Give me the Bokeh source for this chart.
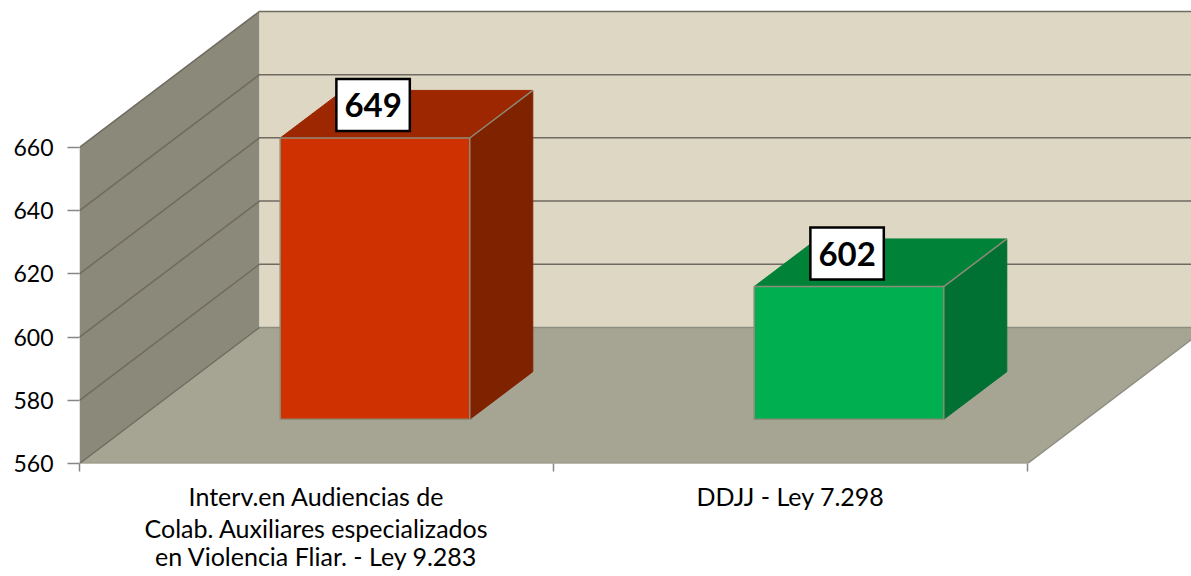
from bokeh.embed import file_html
from bokeh.resources import INLINE
from bokeh.plotting import figure
from bokeh.models import FixedTicker, Label, LinearAxis, Range1d

# --- data -------------------------------------------------------------
category_lines = [
    ["Interv.en Audiencias de", "Colab. Auxiliares especializados", "en Violencia Fliar. - Ley 9.283"],
    ["DDJJ - Ley 7.298"],
]
values = [649, 602]
y_ticks = [560, 580, 600, 620, 640, 660]
front_colors = ["#CF3200", "#00AF50"]
top_colors = ["#9C2700", "#008338"]
side_colors = ["#7F2200", "#007033"]

# --- projection of the 3-D box -------------------------------------------
BASE, TOP = y_ticks[0], y_ticks[-1]
DEPTH_X, DEPTH_Y = 0.3797, 43.04   # data shift at full depth
BAR_W = 0.4
D0, D1 = 0.325, 0.675
NCAT = len(values)
ROW_STANDOFF = [9, -1, -5]


def proj(points):
    xs = [c + d * DEPTH_X for c, v, d in points]
    ys = [v + d * DEPTH_Y for c, v, d in points]
    return xs, ys


p = figure(width=1191, height=576, output_backend="svg", toolbar_location=None,
           x_range=Range1d(0, 2.346), y_range=Range1d(560, 706.5),
           x_axis_type=None, y_axis_type=None,
           min_border_left=79, min_border_right=0, min_border_top=0, min_border_bottom=113,
           background_fill_color="white", border_fill_color="white", outline_line_color=None)
p.grid.visible = False

GRID = "#6F6B60"
EDGE = "#8C8C78"

# walls and floor
xs, ys = proj([(0, BASE, 0), (0, TOP, 0), (0, TOP, 1), (0, BASE, 1)])
p.patch(xs, ys, fill_color="#8B8979", line_color=None)
xs, ys = proj([(0, BASE, 1), (0, TOP, 1), (NCAT, TOP, 1), (NCAT, BASE, 1)])
p.patch(xs, ys, fill_color="#DDD7C3", line_color=None)
xs, ys = proj([(0, BASE, 0), (NCAT, BASE, 0), (NCAT, BASE, 1), (0, BASE, 1)])
p.patch(xs, ys, fill_color="#A6A492", line_color="#8E8E80", line_width=1.5)

# gridlines
for t in y_ticks:
    if t == BASE:
        continue
    xs, ys = proj([(0, t, 0), (0, t, 1), (NCAT, t, 1)])
    p.line(xs, ys, line_color=GRID, line_width=1.5)
xs, ys = proj([(0, BASE, 0), (0, BASE, 1)])
p.line(xs, ys, line_color=GRID, line_width=1.2)

# bars
for i, val in enumerate(values):
    x0, x1 = i + 0.5 - BAR_W / 2, i + 0.5 + BAR_W / 2
    xs, ys = proj([(x1, BASE, D0), (x1, BASE, D1), (x1, val, D1), (x1, val, D0)])
    p.patch(xs, ys, fill_color=side_colors[i], line_color=side_colors[i], line_width=1)
    xs, ys = proj([(x0, val, D0), (x0, val, D1), (x1, val, D1), (x1, val, D0)])
    p.patch(xs, ys, fill_color=top_colors[i], line_color=top_colors[i], line_width=1)
    xs, ys = proj([(x1, val, D0), (x1, val, D1)])
    p.line(xs, ys, line_color=EDGE, line_width=1.5)
    xs, ys = proj([(x0, BASE, D0), (x1, BASE, D0), (x1, val, D0), (x0, val, D0)])
    p.patch(xs, ys, fill_color=front_colors[i], line_color=EDGE, line_width=1.5)

# axes
left = LinearAxis(ticker=FixedTicker(ticks=y_ticks), axis_line_color=None,
                  major_tick_line_color="#868686", major_tick_line_width=1.5,
                  major_tick_in=0, major_tick_out=12, minor_tick_line_color=None,
                  major_label_text_font="Lato", major_label_text_font_size="23px",
                  major_label_text_color="black", major_label_standoff=14)
p.add_layout(left, "left")
bottom = LinearAxis(ticker=FixedTicker(ticks=list(range(NCAT + 1))), axis_line_color=None,
                    major_tick_line_color="#868686", major_tick_line_width=1.5,
                    major_tick_in=0, major_tick_out=8, minor_tick_line_color=None,
                    major_label_overrides={i: "" for i in range(NCAT + 1)})
p.add_layout(bottom, "below")

# category labels: one tick-label row per text line
for j in range(max(len(l) for l in category_lines)):
    ticks = [i + 0.5 for i, l in enumerate(category_lines) if j < len(l)]
    overrides = {i + 0.5: l[j] for i, l in enumerate(category_lines) if j < len(l)}
    row = LinearAxis(ticker=FixedTicker(ticks=ticks), axis_line_color=None,
                     major_tick_line_color=None, minor_tick_line_color=None,
                     major_tick_in=0, major_tick_out=0,
                     major_label_overrides=overrides,
                     major_label_text_font="Lato", major_label_text_font_size="25px",
                     major_label_text_color="black",
                     major_label_standoff=ROW_STANDOFF[j])
    p.add_layout(row, "below")

# value labels
for i, val in enumerate(values):
    p.add_layout(Label(x=i + 0.5 + D0 * DEPTH_X - 0.004, y=val + D0 * DEPTH_Y, y_offset=33, text=str(val),
                       text_font="Lato", text_font_size="33px", text_font_style="bold",
                       text_color="black", text_align="center", text_baseline="middle",
                       background_fill_color="white", border_line_color="black",
                       border_line_width=2.5, border_line_join="miter", padding=(8, 14)))

open("out.html", "w").write(file_html(p, INLINE))
